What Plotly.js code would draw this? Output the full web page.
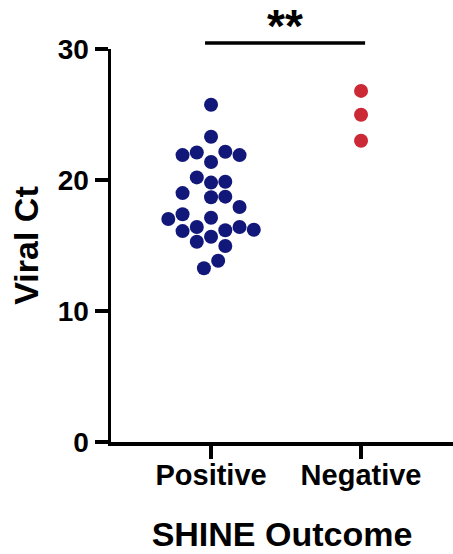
<!DOCTYPE html>
<html><head><meta charset="utf-8">
<script src="https://cdn.plot.ly/plotly-3.0.1.min.js"></script>
<style>html,body{margin:0;padding:0;background:#fff}#chart{width:453px;height:554px}</style>
</head><body><div id="chart"></div>
<script>
const categories = ["Positive", "Negative"];
const positiveCt = [25.75, 23.3, 21.9, 22.1, 22.16, 21.9, 21.37, 20.2, 19.8, 19.87, 19.0, 18.68, 18.73, 17.94, 17.02, 17.38, 17.12, 16.1, 16.41, 16.16, 16.41, 16.2, 15.29, 15.67, 14.96, 13.84, 13.26];
const positiveSlot = [0, 0, -2, -1, 1, 2, 0, -1, 0, 1, -2, 0, 1, 2, -3, -2, 0, -2, -1, 1, 2, 3, -1, 0, 1, 0.5, -0.5];
const negativeCt = [26.8, 24.98, 23.0];
const negativeSlot = [0, 0, 0];
const significance = "**";
const yTicks = [0, 10, 20, 30];

const slotWidth = 0.095;
const font = "Liberation Sans, Arial, sans-serif";

const traces = [
  {x: positiveSlot.map(s => 0 + s * slotWidth), y: positiveCt, type: "scatter", mode: "markers",
   marker: {size: 14, color: "#12177a"}, cliponaxis: false, hoverinfo: "y"},
  {x: negativeSlot.map(s => 1 + s * slotWidth), y: negativeCt, type: "scatter", mode: "markers",
   marker: {size: 14, color: "#cc2936"}, cliponaxis: false, hoverinfo: "y"}
];

const layout = {
  width: 453, height: 554,
  margin: {l: 111, r: 0, t: 49, b: 112},
  showlegend: false,
  paper_bgcolor: "#fff", plot_bgcolor: "#fff",
  font: {family: font, color: "#000"},
  xaxis: {
    range: [-0.667, 1.613], tickvals: [0, 1], ticktext: categories,
    showgrid: false, zeroline: false, showline: true, linewidth: 3.5, linecolor: "#000",
    ticks: "outside", ticklen: 13, tickwidth: 3.5, tickcolor: "#000", ticklabelstandoff: -8,
    tickfont: {family: font, size: 29, color: "#000", weight: "bold"},
    title: {text: "SHINE Outcome", font: {family: font, size: 34, color: "#000", weight: "bold"}, standoff: 33}
  },
  yaxis: {
    range: [0, 30], tickvals: yTicks,
    showgrid: false, zeroline: false, showline: true, linewidth: 3.5, linecolor: "#000",
    ticks: "outside", ticklen: 13, tickwidth: 3.5, tickcolor: "#000",
    tickfont: {family: font, size: 28, color: "#000", weight: "bold"},
    title: {text: "Viral Ct", font: {family: font, size: 34, color: "#000", weight: "bold"}, standoff: 10}
  },
  shapes: [
    {type: "line", xref: "x", yref: "paper", x0: -0.04, x1: 1.027, y0: 1.015, y1: 1.015,
     line: {color: "#000", width: 3.5}}
  ],
  annotations: [
    {text: significance, xref: "x", yref: "paper", x: 0.493, y: 1.058, yanchor: "middle",
     showarrow: false, font: {family: font, size: 46, color: "#000", weight: "bold"}}
  ]
};

Plotly.newPlot("chart", traces, layout, {displayModeBar: false, staticPlot: true});
</script></body></html>
